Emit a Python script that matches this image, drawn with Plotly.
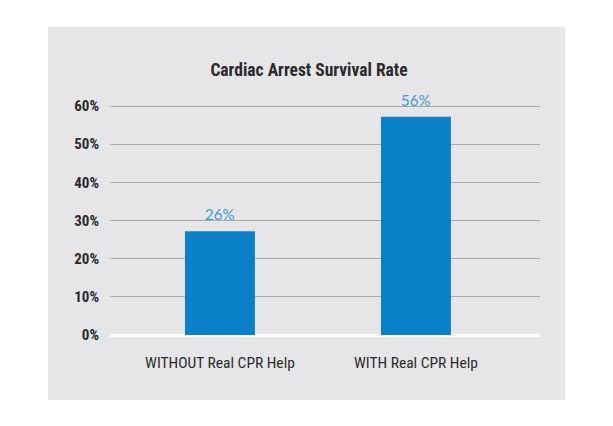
import plotly.graph_objects as go

categories = ["WITHOUT Real CPR Help", "WITH Real CPR Help"]
values = [27.2, 57.2]
value_labels = ["26%", "56%"]
y_ticks = [0, 10, 20, 30, 40, 50, 60]
y_tick_labels = ["0%", "10%", "20%", "30%", "40%", "50%", "60%"]
title_text = "Cardiac Arrest Survival Rate"

# page has an 8px body margin; work in page coords then subtract offset
OFF = 8
W, H = 613 - OFF, 426 - OFF
plot_left, plot_right = 110 - OFF, 540 - OFF
plot_top, plot_bottom = 104 - OFF, 335 - OFF
L, R, T, B = plot_left, W - plot_right, plot_top, H - plot_bottom
pw, ph = plot_right - plot_left, plot_bottom - plot_top
ytop = 60 * (335 - 104) / (335 - 106)

panel = "#e6e6e8"
bar_color = "#0a80c8"
label_color = "#3d9ad8"
grid_color = "#a9a9a9"
text_color = "#2b2b2b"
cond = "Liberation Sans Narrow, Arial Narrow, Roboto Condensed, sans-serif"

xpos = list(range(len(categories)))

fig = go.Figure()
fig.add_trace(go.Bar(
    x=xpos, y=values, width=0.357, marker=dict(color=bar_color, line=dict(width=0)),
    hoverinfo="skip", showlegend=False,
))

for xi, v, lab in zip(xpos, values, value_labels):
    fig.add_annotation(x=xi, y=v, text=lab, showarrow=False, yanchor="bottom",
                       yshift=6, font=dict(family="Lato, Open Sans, sans-serif",
                                           size=15, color=label_color))

fig.add_shape(type="rect", xref="paper", yref="paper",
              x0=(48 - OFF - L) / pw, x1=(565 - OFF - L) / pw,
              y0=1 - (400 - OFF - T) / ph, y1=1 - (27 - OFF - T) / ph,
              fillcolor=panel, line=dict(width=0), layer="below")

fig.update_layout(
    width=W, height=H,
    margin=dict(l=L, r=R, t=T, b=B, pad=0),
    paper_bgcolor="white", plot_bgcolor=panel,
    title=dict(text="<b>" + title_text + "</b>", x=(309 - OFF) / W, xanchor="center",
               y=1 - (70 - OFF) / H, yanchor="middle",
               font=dict(family=cond, size=17.5, color=text_color)),
    xaxis=dict(
        range=[-0.561, 1.633], tickmode="array", tickvals=xpos, ticktext=categories,
        showgrid=False, zeroline=False, showline=False,
        ticks="outside", ticklen=13, tickcolor="rgba(0,0,0,0)",
        tickfont=dict(family=cond, size=15.5, color=text_color),
        fixedrange=True,
    ),
    yaxis=dict(
        range=[0, ytop], tickmode="array", tickvals=y_ticks,
        ticktext=["<b>" + t + "</b>" for t in y_tick_labels],
        showgrid=True, gridcolor=grid_color, gridwidth=1,
        zeroline=True, zerolinecolor="white", zerolinewidth=3,
        showline=False, ticks="outside", ticklen=7, tickcolor="rgba(0,0,0,0)",
        tickfont=dict(family=cond, size=15, color=text_color),
        fixedrange=True,
    ),
)

fig.write_html("out.html", config={"displayModeBar": False})
